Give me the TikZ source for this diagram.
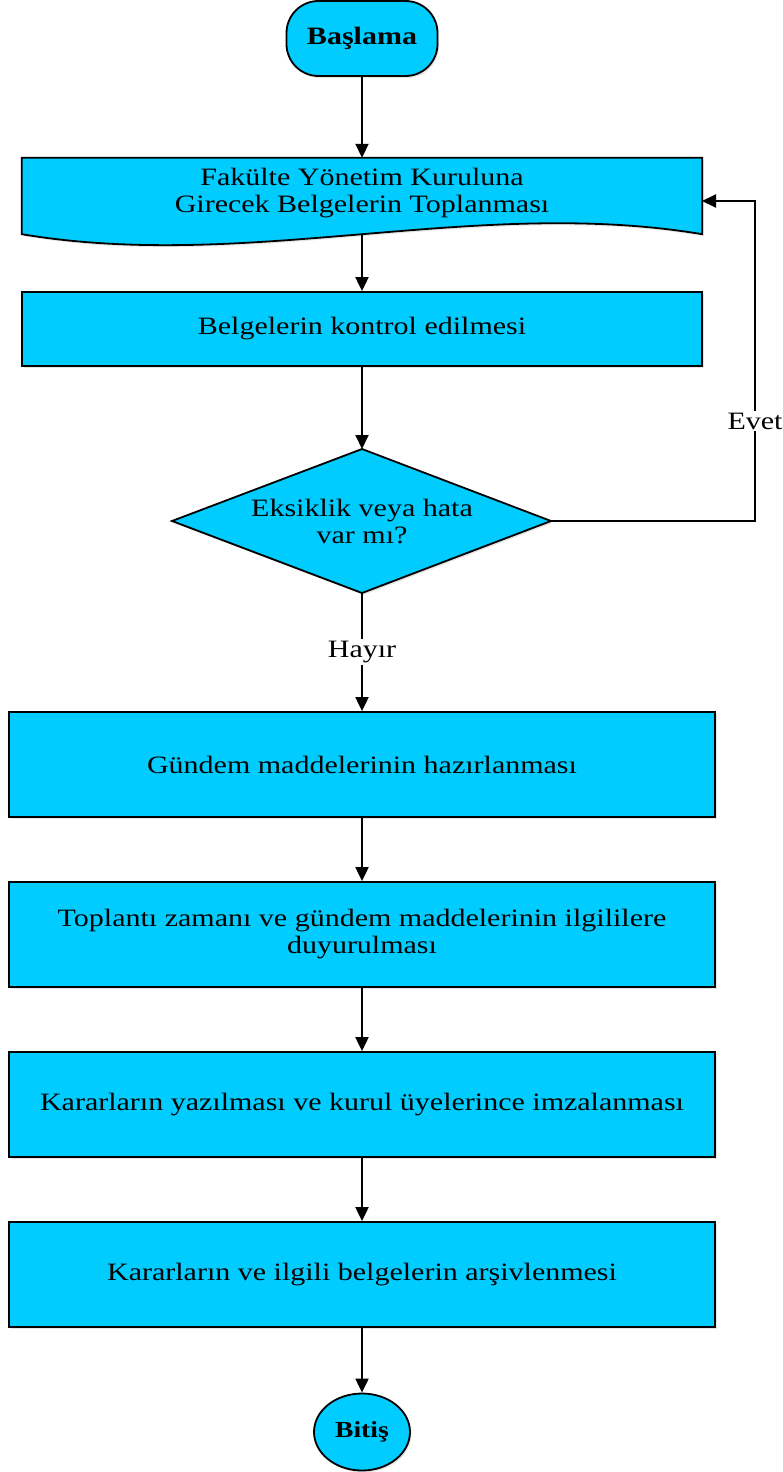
\documentclass[tikz,border=0pt]{standalone}
\usepackage{fontspec}
\setmainfont{Liberation Serif}[FakeStretch=1.2]
\usetikzlibrary{arrows.meta,shapes.geometric,shadows}
\definecolor{boxcyan}{HTML}{00CCFF}
\tikzset{
  every node/.style={font=\fontsize{25}{27}\selectfont},
  flow/.style={draw=black, line width=1.8pt, fill=boxcyan,
     drop shadow={fill=black!20, opacity=0.5, shadow xshift=1.5pt, shadow yshift=-2pt}},
  procbox/.style={flow, rectangle, align=center, inner sep=0pt},
  conn/.style={draw=black, line width=2pt, -{Triangle[length=14pt,width=13pt]}},
  lbl/.style={fill=white, inner sep=2pt}
}
\begin{document}
\begin{tikzpicture}[x=1pt,y=-1pt]
\useasboundingbox (0,0) rectangle (783,1472);

% start
\node[flow, rounded corners=32pt, minimum width=151pt, minimum height=75pt, inner sep=0pt,
      font=\fontsize{25}{27}\selectfont\bfseries] (start) at (362,38.5) {Başlama};

% document shape
\node[minimum width=680pt, minimum height=76pt, inner sep=0pt] (doc) at (362,196) {};
\path[flow] (doc.north west) -- (doc.north east) -- (doc.south east)
   .. controls ([xshift=-227pt,yshift=38pt]doc.south east) and ([xshift=227pt,yshift=-38pt]doc.south west) .. (doc.south west) -- cycle;
\node[align=center] (doctext) at (362,193) {Fakülte Yönetim Kuruluna\\Girecek Belgelerin Toplanması};
\coordinate (docin) at (702,201);

% control
\node[procbox, minimum width=680pt, minimum height=74pt] (kontrol) at (362,329) {Belgelerin kontrol edilmesi};

% decision
\coordinate (diaN) at (362,449);
\coordinate (diaS) at (362,593);
\coordinate (diaE) at (551,521);
\coordinate (diaW) at (172,521);
\path[flow] (diaN) -- (diaE) -- (diaS) -- (diaW) -- cycle;
\node[align=center] (dia) at (362,521) {Eksiklik veya hata\\var mı?};
\coordinate (evetc) at (755,201);

% process boxes
\node[procbox, minimum width=706pt, minimum height=105pt] (b1) at (362,764.5) {Gündem maddelerinin hazırlanması};
\node[procbox, minimum width=706pt, minimum height=105pt] (b2) at (362,934.5) {Toplantı zamanı ve gündem maddelerinin ilgililere\\duyurulması};
\node[procbox, minimum width=706pt, minimum height=105pt] (b3) at (362,1104.5) {Kararların yazılması ve kurul üyelerince imzalanması};
\node[procbox, minimum width=706pt, minimum height=105pt] (b4) at (362,1274.5) {Kararların ve ilgili belgelerin arşivlenmesi};

% end
\node[flow, ellipse, minimum width=96pt, minimum height=77pt, inner sep=0pt,
      font=\fontsize{23}{26}\selectfont\bfseries] (stop) at (362,1432) {Bitiş};

% connectors
\draw[conn] (start.south) -- (start.south |- doc.north);
\draw[conn] (doc.south) -- (kontrol.north);
\draw[conn] (kontrol.south) -- (diaN);
\draw[conn] (diaS) -- node[lbl, pos=0.5] (hayir) {Hayır} (diaS |- b1.north);
\draw[conn] (diaE) -| (evetc) -- (docin);
\node[lbl] (evet) at (755,421) {Evet};
\draw[conn] (b1.south) -- (b2.north);
\draw[conn] (b2.south) -- (b3.north);
\draw[conn] (b3.south) -- (b4.north);
\draw[conn] (b4.south) -- (stop.north);
\end{tikzpicture}
\end{document}
